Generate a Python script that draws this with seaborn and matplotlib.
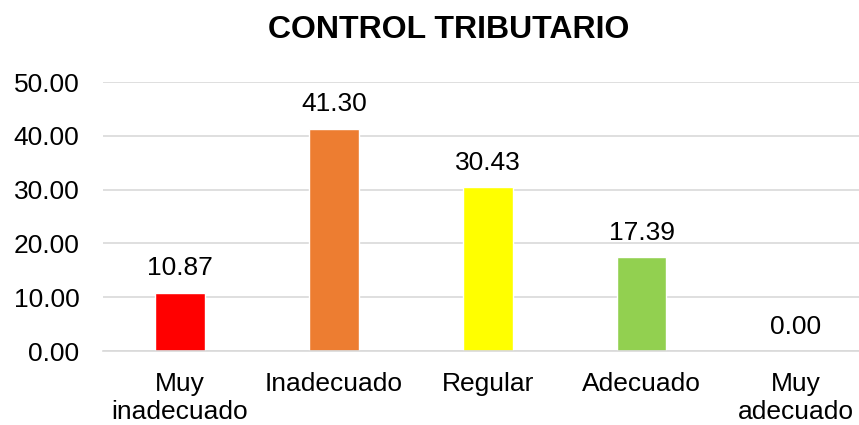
import matplotlib
matplotlib.use("Agg")
import matplotlib.pyplot as plt
import seaborn as sns
import pandas as pd

categorias = ["Muy\ninadecuado", "Inadecuado", "Regular", "Adecuado", "Muy\nadecuado"]
porcentajes = [10.87, 41.30, 30.43, 17.39, 0.00]
colores = ["#FF0000", "#ED7D31", "#FFFF00", "#92D050", "#5B9BD5"]

tabla = pd.DataFrame({"categoria": categorias, "porcentaje": porcentajes})

sns.set_style("white")
plt.rcParams["font.family"] = ["Liberation Sans", "DejaVu Sans"]
plt.rcParams["text.color"] = "black"
plt.rcParams["xtick.color"] = "black"
plt.rcParams["ytick.color"] = "black"

fig = plt.figure(figsize=(8.59, 4.25), dpi=100)
ax = fig.add_axes([0.12, 0.174, 0.896, 0.633])

sns.barplot(data=tabla, x="categoria", y="porcentaje", hue="categoria",
            palette=colores, width=0.32, legend=False, ax=ax, saturation=1)

ax.set_ylim(0, 50)
ax.set_yticks([0, 10, 20, 30, 40, 50])
ax.set_yticklabels([f"{v:.2f}" for v in [0, 10, 20, 30, 40, 50]])
ax.set_xlim(-0.5, 4.5)
ax.yaxis.grid(True, color="#d9d9d9", linewidth=1.2)
ax.set_axisbelow(True)
for s in ["top", "right", "left"]:
    ax.spines[s].set_visible(False)
ax.spines["bottom"].set_color("#d9d9d9")
ax.spines["bottom"].set_linewidth(1.2)
ax.tick_params(axis="y", length=0, pad=17, labelsize=19)
ax.tick_params(axis="x", length=0, pad=15, labelsize=19)
for lbl in ax.get_xticklabels():
    lbl.set_linespacing(1.2)
ax.set_xlabel("")
ax.set_ylabel("")

for i, v in enumerate(porcentajes):
    ax.annotate(f"{v:.2f}", (i, v), xytext=(0, 9), textcoords="offset points",
                ha="center", va="bottom", fontsize=19)

fig.text(0.522, 0.93, "CONTROL TRIBUTARIO", ha="center", va="center",
         fontsize=23, fontweight="bold")

fig.savefig("out.png", dpi=100)
